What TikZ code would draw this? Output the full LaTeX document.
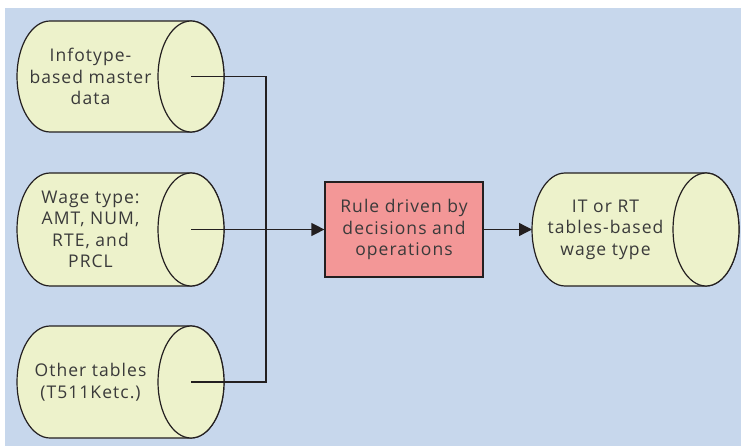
\documentclass[tikz,border=0pt]{standalone}
\usepackage{fontspec}
\setmainfont{Open Sans}[LetterSpace=6]
\usetikzlibrary{arrows.meta}
\definecolor{panel}{HTML}{C7D7EC}
\definecolor{drumfill}{HTML}{EDF2CB}
\definecolor{rulefill}{HTML}{F39797}
\definecolor{ink}{HTML}{231F20}
\definecolor{txt}{HTML}{3A3A3A}
\tikzset{
  x=1pt, y=1pt,
  outline/.style={draw=ink, line width=1.2pt},
  label text/.style={text=txt, align=center, font=\fontsize{17.5}{21.5}\selectfont, inner sep=0pt},
  link/.style={draw=ink, line width=1.3pt},
  feed/.style={link, -{Triangle[length=13pt,width=13pt]}},
}
% \drum{name}{left}{right}{top}{bottom}{text}: a horizontal drum with its end face on the right
\newcommand\drum[6]{%
  \pgfmathsetmacro\dL{#2+33}%
  \pgfmathsetmacro\dR{#3-33}%
  \pgfmathsetmacro\dC{(#4+#5)/2}%
  \pgfmathsetmacro\dRy{(#5-#4)/2}%
  \path[outline, fill=drumfill] (\dR,-#4) -- (\dL,-#4)
     arc[start angle=90, end angle=270, x radius=33pt, y radius=\dRy pt]
     -- (\dR,-#5)
     arc[start angle=-90, end angle=90, x radius=33pt, y radius=\dRy pt] -- cycle;
  \path[outline, fill=drumfill] (\dR,-\dC) ellipse[x radius=33pt, y radius=\dRy pt];
  \coordinate (#1-l) at (#2,-\dC);
  \coordinate (#1-r) at (\dR,-\dC);
  \node[label text] (#1) at ({(#2+\dR-33)/2+3},-\dC) {#6};
}
\begin{document}
\begin{tikzpicture}
\useasboundingbox (0,0) rectangle (741,-446);
\fill[panel] (5,-8) rectangle (741,-446);

\drum{master}{17}{224}{21}{132}{Infotype-\\based master\\data}
\drum{wage}{17}{224}{173}{286}{Wage type:\\AMT, NUM,\\RTE, and\\PRCL}
\drum{other}{17}{224}{326}{438}{Other tables\\(T511Ketc.)}
\drum{result}{532}{739}{173}{286}{IT or RT\\tables-based\\wage type}

\node[outline, fill=rulefill, label text, minimum width=158pt, minimum height=95pt]
  (rule) at (404,-229.5) {Rule driven by\\decisions and\\operations};

\coordinate (bus) at (266,-229.5);
\draw[link] (master-r) -| (bus);
\draw[link] (other-r) -| (bus);
\draw[feed] (wage-r) -- (rule.west);
\draw[feed] (rule.east) -- (result-l);
\end{tikzpicture}
\end{document}
